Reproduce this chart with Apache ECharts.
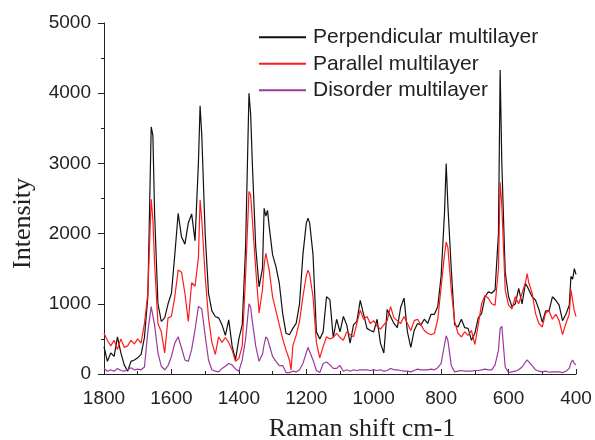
<!DOCTYPE html>
<html>
<head>
<meta charset="utf-8">
<script src="https://cdn.jsdelivr.net/npm/echarts@6/dist/echarts.min.js"></script>
<style>
  html, body { margin: 0; padding: 0; background: #fff; }
</style>
</head>
<body>
<div id="chart" style="width:595px;height:440px;"></div>
<script>
// Raman shift (cm-1)
var shift = [
  1800, 1790, 1780, 1770, 1760, 1750, 1740, 1730, 1720, 1710,
  1700, 1690, 1680, 1670, 1660, 1655, 1650, 1640, 1630, 1620,
  1610, 1600, 1590, 1580, 1570, 1560, 1550, 1540, 1530, 1520,
  1515, 1510, 1500, 1490, 1480, 1470, 1460, 1450, 1440, 1430,
  1420, 1410, 1400, 1390, 1380, 1370, 1365, 1360, 1350, 1340,
  1330, 1325, 1320, 1315, 1310, 1300, 1290, 1280, 1270, 1260,
  1250, 1245, 1240, 1230, 1220, 1210, 1200, 1195, 1190, 1180,
  1170, 1160, 1150, 1140, 1130, 1120, 1110, 1100, 1090, 1080,
  1070, 1060, 1050, 1040, 1030, 1020, 1010, 1000, 990, 980,
  970, 960, 950, 940, 930, 920, 910, 900, 890, 880,
  870, 860, 850, 840, 830, 820, 810, 800, 790, 785,
  780, 770, 760, 750, 740, 730, 720, 710, 700, 690,
  680, 670, 660, 650, 640, 630, 625, 620, 610, 600,
  590, 580, 570, 560, 550, 545, 540, 530, 520, 510,
  500, 490, 480, 470, 460, 450, 440, 430, 420, 415,
  410, 405, 400
]

var perpendicular = [
  390, 180, 300, 250, 530, 300, 130, 40, 180, 200,
  230, 280, 520, 1100, 3520, 3400, 2300, 1000, 750, 800,
  1000, 1150, 1700, 2290, 1950, 1850, 2150, 2280, 1900, 3000,
  3820, 3400, 2000, 1150, 900, 820, 800, 700, 550, 770,
  400, 200, 500, 700, 1810, 4000, 3700, 3000, 1810, 1240,
  1500, 2360, 2250, 2330, 2100, 1700, 1530, 1290, 860, 580,
  560, 550, 650, 720, 1000, 1700, 2150, 2220, 2150, 1700,
  600, 500, 600, 1100, 1060, 520, 780, 600, 820, 700,
  440, 700, 750, 1050, 850, 650, 620, 600, 780, 440,
  300, 920, 820, 720, 660, 950, 1080, 600, 380, 620,
  720, 700, 780, 720, 850, 850, 960, 1400, 2300, 3000,
  2400, 1500, 700, 670, 780, 660, 650, 480, 580, 800,
  860, 1100, 1170, 1150, 1200, 2000, 4330, 3000, 1450, 1100,
  960, 1000, 1220, 1000, 1290, 1250, 1230, 1100, 1050, 920,
  740, 900, 900, 1100, 1050, 980, 760, 850, 980, 1390,
  1350, 1500, 1420
]

var parallel = [
  580, 480, 400, 480, 350, 500, 380, 400, 480, 430,
  500, 440, 720, 1150, 2490, 2200, 1580, 720, 600, 300,
  800, 820, 1100, 1480, 1450, 1150, 750, 1300, 1250, 1650,
  2480, 2200, 1400, 800, 450, 280, 530, 450, 520, 450,
  340, 180, 220, 400, 1400, 2600, 2550, 2200, 1500, 870,
  1200, 1550, 1720, 1600, 1480, 1100, 900, 700, 500, 340,
  200, 60, 400, 550, 750, 1100, 1400, 1480, 1420, 1100,
  450, 230, 390, 530, 500, 520, 580, 520, 480, 600,
  560, 530, 720, 910, 780, 820, 720, 760, 680, 640,
  700, 760, 960, 800, 760, 720, 820, 720, 620, 760,
  780, 700, 620, 580, 560, 580, 780, 1240, 1700, 1880,
  1800, 1200, 750, 580, 530, 600, 550, 620, 420, 700,
  1000, 1120, 1080, 1000, 980, 1500, 2730, 2400, 1200, 980,
  930, 1100, 1000, 1150, 1300, 1430, 1300, 1150, 860, 720,
  670, 870, 900, 780, 850, 760, 560, 720, 850, 1200,
  1050, 900, 820
]

var disorder = [
  80, 40, 60, 40, 80, 50, 40, 60, 90, 60,
  70, 60, 100, 600, 960, 980, 700, 300, 110, 60,
  120, 250, 440, 530, 370, 200, 180, 350, 630, 960,
  975, 930, 550, 200, 60, 40, 30, 80, 110, 150,
  130, 70, 40, 200, 500, 1000, 950, 750, 400, 180,
  280, 420, 530, 500, 420, 250, 180, 120, 120, 20,
  20, 25, 40, 30, 60, 150, 300, 380, 370, 200,
  50, 20, 150, 170, 130, 80, 80, 120, 40, 60,
  40, 60, 50, 60, 60, 60, 50, 60, 50, 60,
  40, 50, 80, 60, 60, 50, 40, 40, 30, 50,
  70, 60, 60, 60, 70, 60, 90, 150, 420, 545,
  480, 120, 30, 40, 50, 40, 40, 40, 50, 50,
  60, 70, 60, 60, 130, 340, 650, 680, 100, 20,
  30, 40, 60, 100, 170, 200, 190, 120, 60, 40,
  30, 40, 25, 30, 30, 30, 20, 40, 80, 160,
  200, 150, 130
]

var seriesNames = ['Perpendicular multilayer', 'Parallel multilayer', 'Disorder multilayer']
var seriesColors = ['#111111', '#ff1a1a', '#9b3a9e']

function pairs(vals) {
  return shift.map(function (s, i) { return [s, vals[i]] })
}

function plain(v) { return String(v) }

var chart = echarts.init(document.getElementById('chart'), null, { renderer: 'canvas' })

chart.setOption({
  animation: false,
  backgroundColor: '#fff',
  color: seriesColors,
  // fixed plot box, don't let the axis names squeeze it
  grid: { left: 104, right: 19, top: 23, bottom: 66, containLabel: false, outerBoundsMode: 'none' },
  legend: {
    orient: 'vertical',
    left: 259,
    top: 26,
    padding: 0,
    icon: 'rect',
    itemWidth: 47,
    itemHeight: 2,
    itemGap: 4,
    data: seriesNames,
    textStyle: { fontFamily: 'Liberation Sans', fontSize: 21, color: '#222', lineHeight: 22.5, padding: [0, 0, 0, 2] }
  },
  xAxis: {
    type: 'value',
    inverse: true,
    min: 400,
    max: 1800,
    interval: 200,
    name: 'Raman shift cm-1',
    nameLocation: 'middle',
    nameGap: 42,
    nameTextStyle: { fontFamily: 'Liberation Serif', fontSize: 26, color: '#222', padding: [0, 0, 0, 44] },
    axisLine: { lineStyle: { color: '#222', width: 1 } },
    axisTick: { inside: true, length: 5, lineStyle: { color: '#222' } },
    minorTick: { show: true, splitNumber: 2, length: 3, lineStyle: { color: '#222' } },
    axisLabel: { fontFamily: 'Liberation Sans', fontSize: 19, color: '#222', margin: 15, formatter: plain },
    splitLine: { show: false }
  },
  yAxis: {
    type: 'value',
    min: 0,
    max: 5000,
    interval: 1000,
    name: 'Intensity',
    nameLocation: 'middle',
    nameGap: 68,
    nameTextStyle: { fontFamily: 'Liberation Serif', fontSize: 26, color: '#222', padding: [0, 50, 0, 0] },
    axisLine: { show: true, lineStyle: { color: '#222', width: 1 } },
    axisTick: { show: true, inside: false, length: 6, lineStyle: { color: '#222' } },
    minorTick: { show: true, splitNumber: 2, length: 3, lineStyle: { color: '#222' } },
    axisLabel: { fontFamily: 'Liberation Sans', fontSize: 19, color: '#222', margin: 13, formatter: plain },
    splitLine: { show: false }
  },
  series: [
    { name: seriesNames[0], type: 'line', data: pairs(perpendicular), showSymbol: false, lineStyle: { width: 1.2 }, z: 3 },
    { name: seriesNames[1], type: 'line', data: pairs(parallel), showSymbol: false, lineStyle: { width: 1.2 }, z: 4 },
    { name: seriesNames[2], type: 'line', data: pairs(disorder), showSymbol: false, lineStyle: { width: 1.2 }, z: 5 }
  ]
})
</script>
</body>
</html>
